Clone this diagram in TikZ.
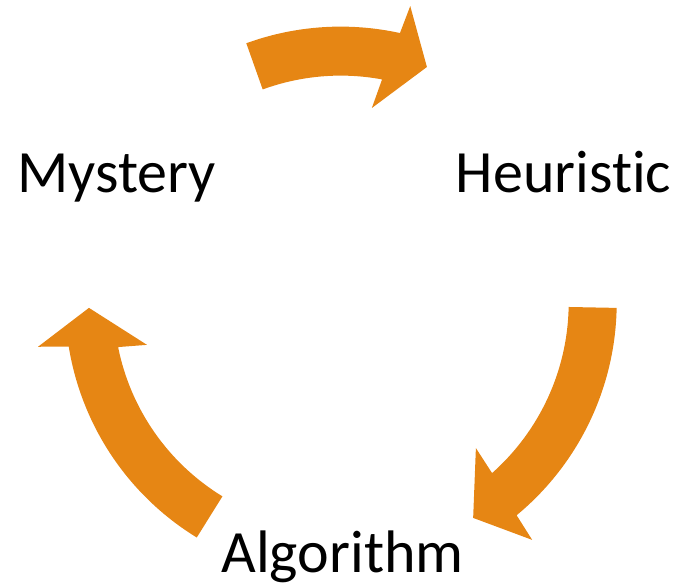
\documentclass[tikz,border=0pt]{standalone}
\usepackage{fontspec}
\setmainfont[Ligatures={NoCommon,NoRare,NoContextual},RawFeature={-liga;-dlig;-calt;-clig}]{Carlito}
\definecolor{cycorange}{HTML}{E68614}
\begin{document}
\begin{tikzpicture}[x=1pt,y=1pt,
  lbl/.style={inner sep=0pt,anchor=base,font=\fontsize{60}{72}\selectfont},
  cyclearrow/.style={fill=cycorange,draw=none}]
\useasboundingbox (0,0) rectangle (679,-587);
\node[lbl] (mystery) at (116.5,-192) {Mystery};
\node[lbl] (heuristic) at (563.5,-192) {Heuris{}tic};
\node[lbl] (algorithm) at (342.5,-572) {Algorithm};
\begin{scope}[shift={(340.7,-302.6)}]
  % top arrow: Mystery -> Heuristic
  \path[cyclearrow] (110:276) arc[start angle=110, end angle=77.6, radius=276]
    -- (76.8:304.6) -- (69.9:250.9) -- (80.9:197.1) -- (79.5:227)
    arc[start angle=79.5, end angle=110.1, radius=227] -- cycle;
  % right arrow: Heuristic -> Algorithm
  \path[cyclearrow] (-1.1:276) arc[start angle=-1.1, end angle=-50.4, radius=276]
    -- (-51.1:304.9) -- (-58.4:252.8) -- (-47.1:198.6) -- (-48.4:228)
    arc[start angle=-48.4, end angle=-1.1, radius=228] -- cycle;
  % left arrow: Algorithm -> Mystery
  \path[cyclearrow] (238.5:275.5) arc[start angle=238.5, end angle=189.2, radius=275.5]
    -- (188.3:305.9) -- (181.2:251.8) -- (192.3:198.3) -- (191.3:227)
    arc[start angle=191.3, end angle=238.6, radius=227] -- cycle;
\end{scope}
\end{tikzpicture}
\end{document}
